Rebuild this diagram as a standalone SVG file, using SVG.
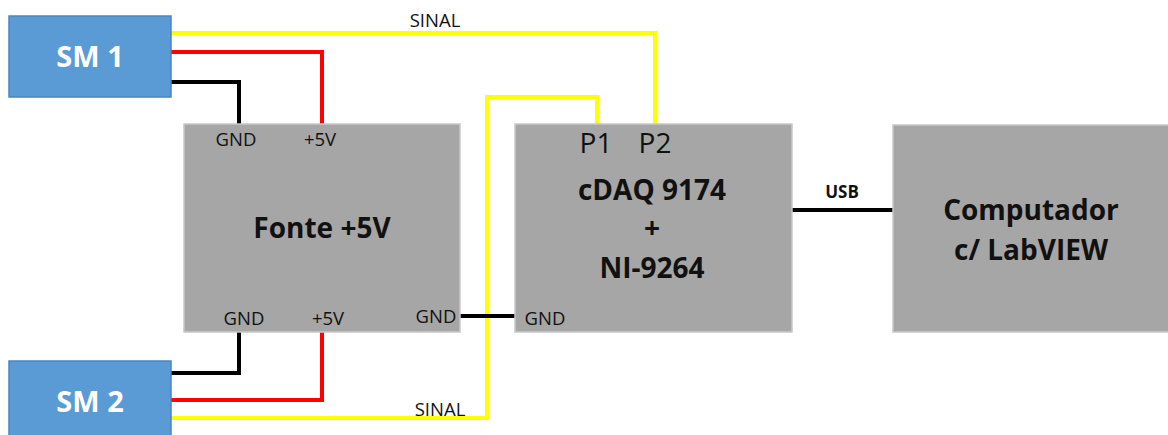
<svg xmlns="http://www.w3.org/2000/svg" width="1168" height="435" viewBox="0 0 1168 435">
<style>
.sm{fill:#5b9bd5;stroke:#4a86c0;stroke-width:1.5}
.box{fill:#a6a6a6;stroke:#c8c8c8;stroke-width:1.5}
.w{fill:none;stroke-width:4;stroke-linejoin:miter}
.y{stroke:#ffff00}.r{stroke:#ff0000}.k{stroke:#000000}
text{font-family:"Open Sans","Liberation Sans",sans-serif;text-anchor:middle}
.lbl{font-size:18.5px;fill:#111}
.big{font-size:28px;font-weight:bold;fill:#111}
.smt{font-size:29px;font-weight:bold;fill:#ffffff}
.pin{font-size:28px;fill:#111}
</style>
<g id="connectors">
<polyline class="w y" points="171,33 655,33 655,124"/>
<polyline class="w r" points="171,52 322,52 322,124"/>
<polyline class="w k" points="171,82 239,82 239,124"/>
<polyline class="w k" points="171,373 239,373 239,332"/>
<polyline class="w r" points="171,400 322,400 322,332"/>
<polyline class="w y" points="171,418 487,418 487,97 597,97 597,124"/>
<line class="w k" x1="460" y1="316" x2="515" y2="316"/>
<line class="w k" x1="792" y1="210" x2="893" y2="210"/>
<text class="lbl" x="435" y="27">SINAL</text>
<text class="lbl" x="440" y="416">SINAL</text>
<text class="lbl" x="842" y="198" style="font-weight:bold;font-size:17px">USB</text>
</g>
<g id="sm1">
<rect class="sm" x="9" y="16" width="162" height="81"/>
<text class="smt" x="90" y="67">SM 1</text>
</g>
<g id="sm2">
<rect class="sm" x="9" y="361" width="162" height="80"/>
<text class="smt" x="90" y="412">SM 2</text>
</g>
<g id="fonte">
<rect class="box" x="184" y="124" width="276" height="208"/>
<text class="lbl" x="236" y="146">GND</text>
<text class="lbl" x="320" y="146">+5V</text>
<text class="big" x="322" y="238">Fonte +5V</text>
<text class="lbl" x="244" y="325">GND</text>
<text class="lbl" x="328" y="325">+5V</text>
<text class="lbl" x="436" y="323">GND</text>
</g>
<g id="cdaq">
<rect class="box" x="515" y="124" width="277" height="208"/>
<text class="pin" x="596" y="153">P1</text>
<text class="pin" x="655" y="153">P2</text>
<text class="big" x="652" y="200">cDAQ 9174</text>
<text class="big" x="652" y="238">+</text>
<text class="big" x="652" y="278">NI-9264</text>
<text class="lbl" x="545" y="325">GND</text>
</g>
<g id="computador">
<rect class="box" x="893" y="125" width="280" height="207"/>
<text class="big" x="1031" y="220">Computador</text>
<text class="big" x="1031" y="260">c/ LabVIEW</text>
</g>
</svg>
